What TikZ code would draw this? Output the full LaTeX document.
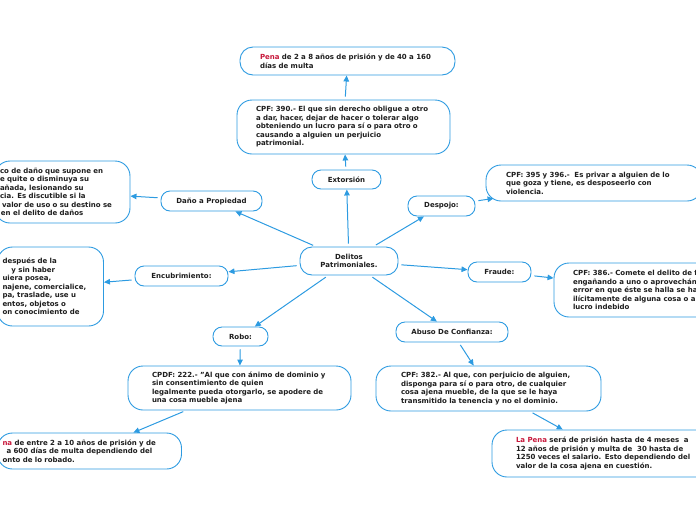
\documentclass[tikz,border=0pt]{standalone}
\usepackage{fontspec}
\setmainfont{DejaVu Sans}
\usetikzlibrary{arrows.meta, positioning}
\definecolor{mapblue}{RGB}{45, 155, 225}
\definecolor{penared}{RGB}{200, 25, 60}
\definecolor{inkgray}{RGB}{30, 30, 30}
\newcommand{\pena}[1]{\textcolor{penared}{#1}}

\begin{document}
\begin{tikzpicture}[
  x=1pt, y=-1pt,
  topic/.style={
    rectangle, rounded corners=9pt,
    draw=mapblue, fill=white, line width=0.9pt,
    font=\fontsize{7}{8.5}\selectfont\bfseries,
    text=inkgray, align=center, inner sep=0pt
  },
  note/.style={
    rectangle, rounded corners=15pt,
    draw=mapblue, fill=white, line width=0.9pt,
    font=\fontsize{7}{8.5}\selectfont\bfseries,
    text=inkgray, align=left, inner ysep=0pt
  },
  link/.style={-{Triangle[length=6pt, width=5.5pt]}, line width=1pt, draw=mapblue, shorten <=3pt}
]
  \useasboundingbox (0,0) rectangle (696,520);
  \clip (0,0) rectangle (696,520);

  % Central topic
  \node[topic, rounded corners=12pt, minimum width=98pt, minimum height=28pt] (delitos) at (349,261) {Delitos\\Patrimoniales.};

  % Main topics
  \node[topic, minimum width=69pt, minimum height=19pt] (extorsion) at (346.5,179.5) {Extorsión};
  \node[topic, minimum width=67pt, minimum height=20pt] (despojo) at (441.5,206) {Despojo:};
  \node[topic, minimum width=101pt, minimum height=20pt] (dano) at (211.5,201) {Daño a Propiedad};
  \node[topic, minimum width=93pt, minimum height=20pt] (encub) at (181.5,276) {Encubrimiento:};
  \node[topic, minimum width=55pt, minimum height=19pt] (robo) at (240.5,336.5) {Robo:};
  \node[topic, minimum width=63pt, minimum height=20pt] (fraude) at (499.5,272) {Fraude:};
  \node[topic, minimum width=112pt, minimum height=20pt] (abuso) at (452,332) {Abuso De Confianza:};

  % Notes
  \node[note, text width=175pt, inner xsep=19pt, minimum height=54pt] (cpf390) at (343.5,127)
    {CPF: 390.- El que sin derecho obligue a otro\\a dar, hacer, dejar de hacer o tolerar algo\\obteniendo un lucro para sí o para otro o\\causando a alguien un perjuicio\\patrimonial.};
  \node[note, rounded corners=13pt, text width=175pt, inner xsep=20pt, minimum height=28pt] (pena1) at (347.5,61)
    {\pena{Pena} de 2 a 8 años de prisión y de 40 a 160\\días de multa};
  \node[note, text width=176pt, inner xsep=20pt, minimum height=36pt] (cpf395) at (594,183)
    {CPF: 395 y 396.-\ \ Es privar a alguien de lo\\que goza y tiene, es desposeerlo con\\violencia.};
  \node[note, text width=125pt, inner xsep=5pt, minimum height=62pt] (danotxt) at (62.5,192)
    {co de daño que supone en\\e quite o disminuya su\\añada, lesionando su\\cia. Es discutible si la\\\hspace*{2pt}valor de uso o su destino se\\\hspace*{1pt}en el delito de daños};
  \node[note, text width=96pt, inner xsep=5pt, minimum height=79pt] (enctxt) at (50.5,286.5)
    {después de la\\\hspace*{9pt}y sin haber\\uiera posea,\\najene, comercialice,\\pa, traslade, use u\\entos, objetos o\\on conocimiento de};
  \node[note, text width=175pt, inner xsep=24pt, minimum height=44pt] (cpdf222) at (239.5,388)
    {CPDF: 222.- "Al que con ánimo de dominio y\\sin consentimiento de quien\\legalmente pueda otorgarlo, se apodere de\\una cosa mueble ajena};
  \node[note, text width=174pt, inner xsep=5pt, minimum height=36pt] (pena2) at (89.5,451)
    {\pena{na} de entre 2 a 10 años de prisión y de\\\hspace*{4pt}a 600 días de multa dependiendo del\\onto de lo robado.};
  \node[note, text width=176pt, inner xsep=19pt, minimum height=54pt] (cpf386) at (661,290)
    {CPF: 386.- Comete el delito de f\\engañando a uno o aprovechán\\error en que éste se halla se ha\\ilícitamente de alguna cosa o al\\lucro indebido};
  \node[note, text width=175pt, inner xsep=25pt, minimum height=45pt] (cpf382) at (488.5,388.5)
    {CPF: 382.- Al que, con perjuicio de alguien,\\disponga para sí o para otro, de cualquier\\cosa ajena mueble, de la que se le haya\\transmitido la tenencia y no el dominio.};
  \node[note, text width=180pt, inner xsep=24pt, minimum height=47pt] (pena3) at (606,453.5)
    {\pena{La Pena} será de prisión hasta de 4 meses\ \ a\\12 años de prisión y multa de\ \ 30 hasta de\\1250 veces el salario. Esto dependiendo del\\valor de la cosa ajena en cuestión.};

  % Connectors
  \draw[link] (delitos) -- (extorsion);
  \draw[link] (extorsion) -- (cpf390);
  \draw[link] (cpf390) -- (pena1);
  \draw[link] (delitos) -- (despojo);
  \draw[link] (despojo) -- ([xshift=8pt, yshift=3pt]cpf395.south west);
  \draw[link] (delitos) -- (dano);
  \draw[link] (dano) -- (danotxt);
  \draw[link] (delitos) -- (encub);
  \draw[link] (encub) -- (enctxt);
  \draw[link] (delitos) -- (robo);
  \draw[link] (robo) -- (cpdf222);
  \draw[link] (cpdf222) -- (pena2);
  \draw[link] (delitos) -- (fraude);
  \draw[link] (fraude) -- (cpf386);
  \draw[link] (delitos) -- (abuso);
  \draw[link] (abuso) -- (cpf382);
  \draw[link] (cpf382) -- (pena3);
\end{tikzpicture}
\end{document}
